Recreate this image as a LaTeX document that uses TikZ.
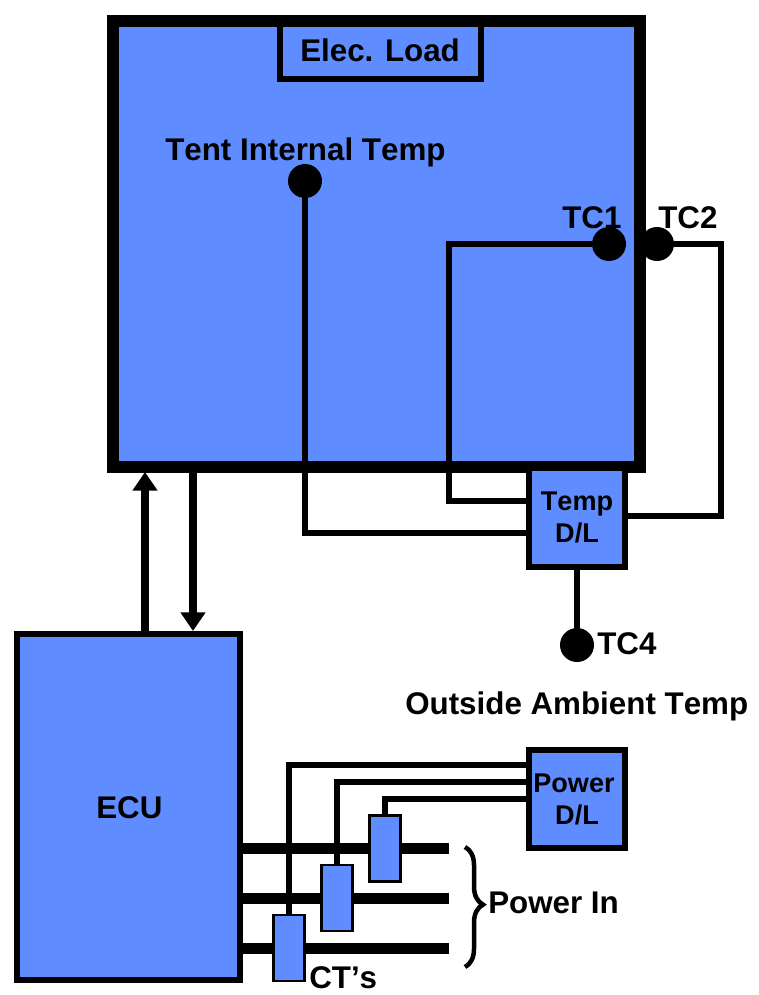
\documentclass[tikz,border=0pt]{standalone}
\usepackage{fontspec}
\setmainfont[Kerning=Off]{Liberation Sans}
\usetikzlibrary{arrows.meta,decorations.pathreplacing}
\newdimen\px
\px=0.75pt
\definecolor{tentblue}{HTML}{5F8CFF}

\begin{document}
\begin{tikzpicture}[x=0.75pt, y=-0.75pt,
                    block/.style={rectangle, draw, fill=tentblue, line width=6\px, inner sep=0pt},
                    ctblock/.style={rectangle, draw, fill=tentblue, line width=2.5\px, inner sep=0pt, minimum width=31\px, minimum height=66\px},
                    sensor/.style={circle, fill=black, inner sep=0pt, minimum size=34\px},
                    wire/.style={line width=5.5\px},
                    feed/.style={line width=11\px},
                    link/.style={line width=8\px, -{Triangle[width=18pt,length=14pt]}},
                    tag/.style={inner sep=0pt, anchor=base west, font=\bfseries\fontsize{23.5}{32}\selectfont},
                    dltext/.style={align=center, font=\bfseries\fontsize{20.3}{24}\selectfont}]
  \useasboundingbox (0,0) rectangle (759,995);
  \node[block, line width=12\px, minimum width=527\px, minimum height=446\px] (tent) at (376.5,244) {};
  \node[block, minimum width=201\px, minimum height=55\px] (load) at (380.5,51.5) {};
  \node[tag] (loadtext) at (300,62) {Elec. Load};
  \node[tag] (tenttext) at (165,161) {Tent Internal Temp};
  \node[tag] (tc1text) at (562,228) {TC1};
  \node[tag] (tc2text) at (658,228) {TC2};
  \node[sensor] (inner) at (305,181) {};
  \node[sensor] (tc1) at (609,244) {};
  \node[sensor] (tc2) at (657,244) {};
  \node[block, dltext, minimum width=96\px, minimum height=99\px] (tempdl) at (577,517.5) {Temp\\D/L};
  \node[sensor] (tc4) at (577,645) {};
  \node[tag] (tc4text) at (597,654) {TC4};
  \node[tag] (outside) at (405,714) {Outside Ambient Temp};
  \node[block, minimum width=223\px, minimum height=346\px] (ecu) at (128.5,807) {};
  \node[tag] (ecutext) at (96,818) {ECU};
  \node[block, dltext, minimum width=96\px, minimum height=98\px] (powerdl) at (577,799) {Power\hspace*{6\px}\\D/L};
  % wires into the loggers
  \node[coordinate] (bend1) at (449,501) {};
  \node[coordinate] (bend2) at (721,516) {};
  \node[coordinate] (bend3) at (305,533) {};
  \draw[wire] (tc1) -| (bend1) -- (bend1 -| tempdl.west);
  \draw[wire] (tc2) -| (bend2) -- (bend2 -| tempdl.east);
  \draw[wire] (inner) -- (bend3) -- (bend3 -| tempdl.west);
  \draw[wire] (tempdl) -- (tc4);
  % links between tent and ECU
  \node[coordinate] (uplink) at (145,472) {};
  \node[coordinate] (downlink) at (193,472) {};
  \draw[link] (uplink |- ecu.north) -- (uplink);
  \draw[link] (downlink) -- (downlink |- ecu.north);
  % power feeds and CT's
  \node[coordinate] (feed1) at (449,848) {};
  \node[coordinate] (feed2) at (449,898) {};
  \node[coordinate] (feed3) at (449,948) {};
  \draw[feed] (feed1 -| ecu.east) -- (feed1);
  \draw[feed] (feed2 -| ecu.east) -- (feed2);
  \draw[feed] (feed3 -| ecu.east) -- (feed3);
  \node[ctblock] (ct1) at (289,948) {};
  \node[ctblock] (ct2) at (337,898) {};
  \node[ctblock] (ct3) at (385,848.5) {};
  \node[coordinate] (pin1) at (526,765) {};
  \node[coordinate] (pin2) at (526,782) {};
  \node[coordinate] (pin3) at (526,799) {};
  \draw[wire] (ct1.north) |- (pin1);
  \draw[wire] (ct2.north) |- (pin2);
  \draw[wire] (ct3.north) |- (pin3);
  \node[tag] (cttext) at (309,988) {CT’s};
  % brace
  \node[coordinate] (bracetop) at (465,847) {};
  \node[coordinate] (bracebot) at (465,967) {};
  \draw[line width=4.5\px, decorate, decoration={brace, amplitude=18\px, aspect=0.48}] (bracetop) -- (bracebot);
  \node[tag] (powerin) at (488,913) {Power In};
\end{tikzpicture}
\end{document}
